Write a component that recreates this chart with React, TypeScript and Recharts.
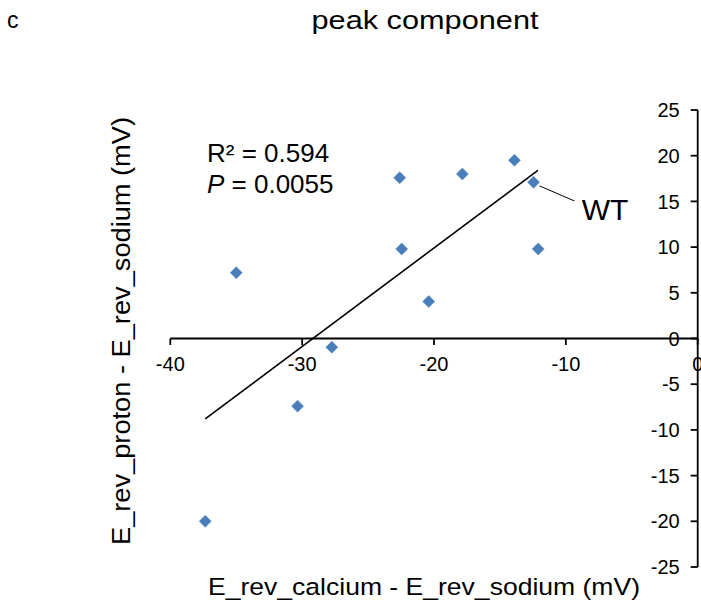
import React from 'react';
import { ScatterChart, Scatter, XAxis, YAxis, ReferenceLine, ReferenceDot } from 'recharts';

// Data
const calciumDiff = [-35.0, -22.6, -22.45, -17.85, -20.4, -13.9, -12.45, -12.1, -27.75, -30.35, -37.35];
const protonDiff = [7.2, 17.6, 9.8, 18.0, 4.05, 19.5, 17.1, 9.8, -0.95, -7.4, -20.0];
const trendX = [-37.35, -12.12];
const trendY = [-8.8, 18.4];
const xTicks = [-40, -30, -20, -10, 0];
const yTicks = [-25, -20, -15, -10, -5, 0, 5, 10, 15, 20, 25];
const wtLeaderX = [-12.0, -9.35];
const wtLeaderY = [16.7, 15.05];
const wtLabelPos = { x: -8.8, y: 12.96 };

const points = calciumDiff.map((x, i) => ({ x, y: protonDiff[i] }));

const FONT = '"Liberation Sans", Arial, Helvetica, sans-serif';
const MARKER = '#4A7EBB';

const Diamond = (props: any) => {
  const { cx, cy } = props;
  if (cx == null || cy == null) return <g />;
  const r = 6;
  return (
    <polygon
      points={`${cx},${cy - r} ${cx + r},${cy} ${cx},${cy + r} ${cx - r},${cy}`}
      fill={MARKER}
      stroke={MARKER}
      strokeWidth={0.5}
    />
  );
};

export default function App() {
  return (
    <div style={{ position: 'absolute', left: 0, top: 0, width: 701, height: 607, background: '#fff' }}>
      <ScatterChart
        width={701}
        height={607}
        margin={{ top: 110, right: 3.3, bottom: 40, left: 170.3 }}
      >
        <XAxis type="number" dataKey="x" domain={[-40, 0]} hide allowDataOverflow />
        <YAxis
          type="number"
          dataKey="y"
          domain={[-25, 25]}
          ticks={yTicks}
          orientation="right"
          mirror
          allowDataOverflow
          stroke="#000"
          strokeWidth={1.8}
          tickSize={7}
          tickMargin={11}
          tickLine={{ stroke: '#000', strokeWidth: 1.8 }}
          axisLine={{ stroke: '#000', strokeWidth: 1.8 }}
          tick={{ fill: '#000', fontSize: 20, fontFamily: FONT }}
          interval={0}
        />
        <ReferenceLine y={0} stroke="#000" strokeWidth={1.8} />
        {xTicks.map((t) => (
          <ReferenceDot
            key={`xt${t}`}
            x={t}
            y={0}
            r={0}
            shape={(p: any) => (
              <g>
                <line x1={p.cx} y1={p.cy} x2={p.cx} y2={p.cy + 6.5} stroke="#000" strokeWidth={1.8} />
                <text
                  x={p.cx}
                  y={p.cy + 32.5}
                  textAnchor="middle"
                  fontSize={20}
                  fontFamily={FONT}
                  fill="#000"
                >
                  {t}
                </text>
              </g>
            )}
          />
        ))}
        <ReferenceLine
          segment={[
            { x: trendX[0], y: trendY[0] },
            { x: trendX[1], y: trendY[1] },
          ]}
          stroke="#000"
          strokeWidth={1.6}
        />
        <ReferenceLine
          segment={[
            { x: wtLeaderX[0], y: wtLeaderY[0] },
            { x: wtLeaderX[1], y: wtLeaderY[1] },
          ]}
          stroke="#000"
          strokeWidth={1}
        />
        <ReferenceDot
          x={wtLabelPos.x}
          y={wtLabelPos.y}
          r={0}
          shape={(p: any) => (
            <text x={p.cx} y={p.cy} fontSize={30} fontFamily={FONT} fill="#000">
              WT
            </text>
          )}
        />
        <Scatter data={points} shape={Diamond} isAnimationActive={false} />
      </ScatterChart>
      <svg
        width={701}
        height={607}
        style={{ position: 'absolute', left: 0, top: 0, pointerEvents: 'none' }}
      >
        <text x={7} y={27.5} fontSize={23} fontFamily={FONT} fill="#000">c</text>
        <text
          x={425}
          y={28.5}
          textAnchor="middle"
          fontSize={26}
          fontFamily={FONT}
          fill="#000"
          textLength={227}
          lengthAdjust="spacingAndGlyphs"
        >
          peak component
        </text>
        <text x={207} y={161.7} fontSize={26} fontFamily={FONT} fill="#000">
          R² = 0.594
        </text>
        <text x={207} y={193.3} fontSize={26} fontFamily={FONT} fill="#000">
          <tspan fontStyle="italic">P</tspan> = 0.0055
        </text>
        <text
          x={424}
          y={595}
          textAnchor="middle"
          fontSize={24.5}
          fontFamily={FONT}
          fill="#000"
          textLength={432}
          lengthAdjust="spacingAndGlyphs"
        >
          E_rev_calcium - E_rev_sodium (mV)
        </text>
        <text
          x={0}
          y={0}
          transform="translate(130, 331) rotate(-90)"
          textAnchor="middle"
          fontSize={25}
          fontFamily={FONT}
          fill="#000"
          textLength={428}
          lengthAdjust="spacingAndGlyphs"
        >
          E_rev_proton - E_rev_sodium (mV)
        </text>
      </svg>
    </div>
  );
}
